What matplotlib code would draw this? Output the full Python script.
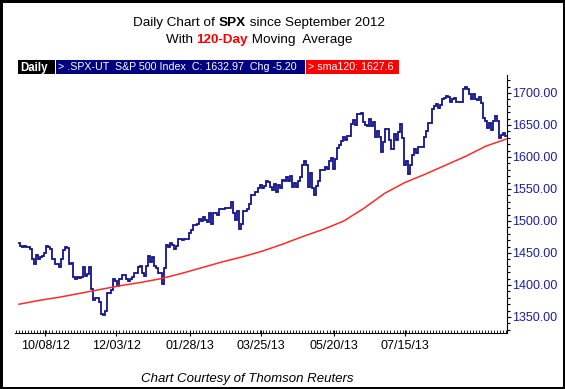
import matplotlib
matplotlib.use('Agg')
import matplotlib.pyplot as plt
from matplotlib.patches import Rectangle
from matplotlib.ticker import MultipleLocator, FixedLocator, FuncFormatter

W, H = 565, 389

# ---- data: daily closes of SPX, Sep 14 2012 .. Aug 30 2013 (trading days) ----
close_sep12 = [1466, 1461, 1459, 1461, 1460, 1460, 1456, 1441, 1433, 1447, 1441]
close_oct12 = [1444, 1445, 1450, 1461, 1460, 1456, 1441, 1433, 1433, 1428, 1441,
               1455, 1460, 1458, 1433, 1434, 1413, 1409, 1412, 1411, 1412]
close_nov12 = [1428, 1414, 1417, 1428, 1394, 1377, 1380, 1380, 1374, 1355, 1353,
               1359, 1387, 1387, 1392, 1409, 1406, 1399, 1409, 1416, 1416]
close_dec12 = [1409, 1407, 1410, 1413, 1418, 1419, 1428, 1429, 1419, 1414, 1430,
               1446, 1436, 1443, 1430, 1427, 1419, 1418, 1402, 1426]
close_jan13 = [1462, 1459, 1466, 1462, 1457, 1461, 1472, 1472, 1471, 1472, 1472,
               1481, 1486, 1493, 1494, 1495, 1503, 1500, 1507, 1502, 1498]
close_feb13 = [1513, 1495, 1512, 1512, 1509, 1518, 1518, 1519, 1521, 1521, 1520,
               1530, 1512, 1502, 1516, 1488, 1496, 1515, 1515]
close_mar13 = [1518, 1526, 1540, 1541, 1545, 1552, 1557, 1552, 1555, 1563, 1561,
               1553, 1549, 1558, 1546, 1556, 1552, 1564, 1563, 1569]
close_apr13 = [1562, 1570, 1553, 1559, 1553, 1563, 1568, 1588, 1593, 1588, 1553,
               1575, 1552, 1541, 1555, 1563, 1579, 1579, 1585, 1582, 1594, 1598]
close_may13 = [1582, 1597, 1614, 1618, 1625, 1632, 1626, 1633, 1633, 1651, 1658,
               1650, 1667, 1667, 1669, 1655, 1650, 1649, 1660, 1649, 1655, 1631]
close_jun13 = [1640, 1631, 1608, 1623, 1643, 1643, 1627, 1612, 1636, 1626, 1639,
               1651, 1629, 1588, 1593, 1573, 1588, 1603, 1613, 1606]
close_jul13 = [1615, 1615, 1616, 1632, 1641, 1653, 1653, 1675, 1680, 1683, 1677,
               1681, 1690, 1692, 1696, 1693, 1686, 1690, 1692, 1686, 1686, 1686]
close_aug13 = [1706, 1710, 1707, 1698, 1690, 1698, 1691, 1689, 1694, 1685, 1661,
               1656, 1646, 1653, 1642, 1656, 1664, 1657, 1630, 1635, 1638, 1633]

closes = (close_sep12 + close_oct12 + close_nov12 + close_dec12 + close_jan13 +
          close_feb13 + close_mar13 + close_apr13 + close_may13 + close_jun13 +
          close_jul13 + close_aug13)

# 120-day simple moving average at bar indices
sma_idx = [0, 10, 20, 30, 40, 50, 60, 70, 80, 90, 100, 110, 120, 130, 140, 150,
           160, 170, 180, 190, 200, 210, 220, 230, 240]
sma_val = [1370, 1376, 1381, 1387, 1393, 1399, 1404, 1410, 1418, 1427, 1436, 1444,
           1453, 1464, 1476, 1487, 1500, 1520, 1543, 1560, 1573, 1587, 1601, 1617, 1628]

tick_idx = [13, 48, 84, 119, 155, 190]
tick_labels = ['10/08/12', '12/03/12', '01/28/13', '03/25/13', '05/20/13', '07/15/13']

NAVY = '#14148c'
BLUE_TXT = '#1e1e9a'

plt.rcParams['font.family'] = ['Liberation Sans', 'DejaVu Sans']

fig = plt.figure(figsize=(W / 100, H / 100), dpi=100)
fig.patch.set_facecolor('white')

def fx(x):
    return x / W

def fy(y):
    return 1 - y / H

ax = fig.add_axes([fx(15), fy(333), fx(507) - fx(15), fy(75) - fy(333)])
ax.set_facecolor('white')
x = list(range(len(closes)))
ax.plot(x, closes, color=NAVY, lw=1.3, drawstyle='steps-mid', solid_joinstyle='miter')
ax.plot(sma_idx, sma_val, color='#ff2a2a', lw=1.1)

ax.set_xlim(-1.97, 240.4)
ax.set_ylim(1325, 1728.1)

for s in ['left', 'top']:
    ax.spines[s].set_visible(False)
ax.spines['right'].set_color('black')
ax.spines['bottom'].set_color('black')
ax.spines['right'].set_linewidth(0.8)
ax.spines['bottom'].set_linewidth(0.8)

ax.yaxis.tick_right()
ax.yaxis.set_major_locator(MultipleLocator(50))
ax.yaxis.set_minor_locator(MultipleLocator(10))
ax.yaxis.set_major_formatter(FuncFormatter(lambda v, p: f'{v:.2f}'))
ax.tick_params(axis='y', which='major', length=3, width=0.8, pad=0.5,
               labelsize=9, labelcolor=BLUE_TXT, color='black')
ax.tick_params(axis='y', which='minor', length=2, width=0.8, color='black')

ax.xaxis.set_major_locator(FixedLocator(tick_idx))
ax.xaxis.set_ticklabels(tick_labels)
ax.xaxis.set_minor_locator(MultipleLocator(1.5))
ax.tick_params(axis='x', which='major', length=4, width=0.8, pad=3,
               labelsize=9, labelcolor='black', color='black', direction='inout')
ax.tick_params(axis='x', which='minor', length=2, width=0.6, color='black', direction='in')

# ---- titles with mixed formatting ----
fig.canvas.draw()
r = fig.canvas.get_renderer()

def width_of(s, **kw):
    t = fig.text(0, 0, s + '|', **kw)
    t2 = fig.text(0, 0, '|', **kw)
    w = t.get_window_extent(r).width - t2.get_window_extent(r).width
    t.remove(); t2.remove()
    return w

def rich_line(pieces, cx, cy):
    ws = [width_of(s, **kw) for s, kw in pieces]
    xx = cx - sum(ws) / 2
    for (s, kw), w in zip(pieces, ws):
        fig.text(fx(xx), fy(cy), s, va='center', ha='left', **kw)
        xx += w

ts = 9.7
rich_line([('Daily Chart of ', dict(fontsize=ts)),
           ('SPX', dict(fontsize=ts, fontweight='bold')),
           (' since September 2012', dict(fontsize=ts))], 259, 23)
rich_line([('With ', dict(fontsize=ts)),
           ('120-Day', dict(fontsize=ts, fontweight='bold', color='#ff0000')),
           (' Moving  Average', dict(fontsize=ts))], 259, 40)

# ---- header strip ----
def box(x0, x1, color):
    fig.patches.append(Rectangle((fx(x0), fy(74)), fx(x1) - fx(x0), fy(60) - fy(74),
                                 transform=fig.transFigure, facecolor=color,
                                 edgecolor='none'))

box(18, 55, 'black')
box(56, 305, '#000080')
box(306, 399, '#ff0000')
hs = 7.7
fig.text(fx(20), fy(67.5), 'Daily', color='white', fontsize=8.3, fontweight='bold', va='center')
fig.text(fx(58), fy(67.5), '> .SPX-UT  S&P 500 Index  C: 1632.97  Chg -5.20',
         color='white', fontsize=hs, va='center')
fig.text(fx(308), fy(67.5), '> sma120: 1627.6', color='white', fontsize=hs, va='center')

# ---- footer ----
fig.text(fx(247), fy(379), 'Chart Courtesy of Thomson Reuters', fontsize=9.5,
         style='italic', ha='center', va='center')

# ---- outer border ----
fig.patches.append(Rectangle((0, 0), 1, 1, transform=fig.transFigure, fill=False,
                             edgecolor='black', linewidth=3.6))

fig.savefig('out.png', dpi=100)
